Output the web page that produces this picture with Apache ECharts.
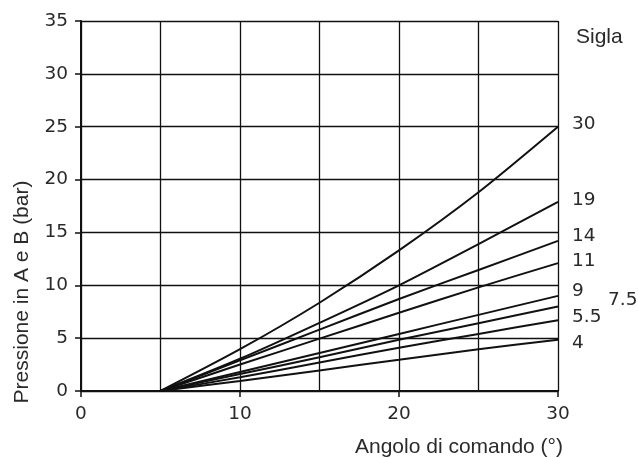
<!DOCTYPE html>
<html>
<head>
<meta charset="utf-8">
<script src="https://cdn.jsdelivr.net/npm/echarts@6/dist/echarts.min.js"></script>
<style>html,body{margin:0;padding:0;background:#fff;}#c{width:638px;height:458px;}</style>
</head>
<body>
<div id="c"></div>
<script>
// Data
const xValues = [5, 10, 15, 20, 25, 30];
const sigla = ['30', '19', '14', '11', '9', '7.5', '5.5', '4'];
const p30 = [0, 3.95, 8.35, 13.3, 18.8, 25];
const p19 = [0, 3.05, 6.45, 10.0, 13.9, 17.9];
const p14 = [0, 2.9, 5.8, 8.7, 11.45, 14.2];
const p11 = [0, 2.5, 4.95, 7.4, 9.8, 12.1];
const p9 = [0, 1.8, 3.6, 5.4, 7.2, 9.0];
const p75 = [0, 1.6, 3.2, 4.85, 6.4, 8.0];
const p55 = [0, 1.3, 2.7, 4.1, 5.4, 6.7];
const p4 = [0, 0.95, 1.95, 2.95, 3.95, 4.85];
const seriesValues = [p30, p19, p14, p11, p9, p75, p55, p4];
const xTickLabels = [0, 10, 20, 30];
const yTickLabels = [0, 5, 10, 15, 20, 25, 30, 35];

// label offsets (style only)
const labelOffsets = [[0,-3],[0,-2],[0,-5],[0,-2],[0,-5],[36,-6],[0,-3],[0,3]];

const lineColor = '#111';
const textColor = '#2a2a2a';
const tickFont = 'DejaVu Sans';
const nameFont = 'Liberation Sans';

const chart = echarts.init(document.getElementById('c'), null, {renderer: 'canvas'});

const series = seriesValues.map((vals, i) => ({
  type: 'line',
  name: sigla[i],
  xAxisIndex: 0,
  data: vals.map((v, j) => [xValues[j], v]),
  showSymbol: false,
  symbol: 'none',
  smooth: 0.25,
  lineStyle: {color: lineColor, width: 2},
  z: 5,
  endLabel: {
    show: true,
    formatter: sigla[i],
    color: textColor,
    fontFamily: tickFont,
    fontSize: 18.5,
    distance: 14,
    offset: labelOffsets[i]
  }
}));

chart.setOption({
  animation: false,
  backgroundColor: '#fff',
  grid: {left: 81, right: 80, top: 21, bottom: 66, containLabel: false},
  title: {
    text: 'Sigla', left: 571, top: 22,
    textStyle: {fontFamily: nameFont, fontSize: 21, fontWeight: 'normal', color: textColor}
  },
  graphic: [{
    type: 'text',
    x: 22, y: 292,
    rotation: Math.PI / 2,
    style: {
      text: 'Pressione in A e B (bar)',
      fontFamily: nameFont, fontSize: 21, fill: textColor,
      align: 'center', verticalAlign: 'middle'
    }
  }],
  xAxis: [{
    type: 'value', min: 0, max: 30, interval: 10,
    position: 'bottom',
    axisLine: {show: true, onZero: false, lineStyle: {color: lineColor, width: 2}},
    axisTick: {show: true, length: 6, lineStyle: {color: lineColor, width: 1.5}},
    axisLabel: {show: true, margin: 14, color: textColor, fontFamily: tickFont, fontSize: 18.5,
      formatter: v => (xTickLabels.indexOf(v) >= 0 ? String(v) : '')},
    splitLine: {show: false},
    name: 'Angolo di comando (°)',
    nameLocation: 'end',
    nameGap: 5,
    nameTextStyle: {fontFamily: nameFont, fontSize: 21, color: textColor, align: 'right', verticalAlign: 'top', padding: [46, 0, 0, 0]},
    z: 3
  }, {
    type: 'value', min: 0, max: 30, interval: 5,
    position: 'bottom',
    axisLine: {show: false},
    axisTick: {show: false},
    axisLabel: {show: false},
    splitLine: {show: true, lineStyle: {color: lineColor, width: 1.3}}
  }],
  yAxis: {
    type: 'value', min: 0, max: 35, interval: 5,
    axisLine: {show: true, lineStyle: {color: lineColor, width: 2}},
    axisTick: {show: true, length: 6, lineStyle: {color: lineColor, width: 1.5}},
    axisLabel: {margin: 13, color: textColor, fontFamily: tickFont, fontSize: 18.5,
      formatter: v => (yTickLabels.indexOf(v) >= 0 ? String(v) : '')},
    splitLine: {show: true, lineStyle: {color: lineColor, width: 1.3}}
  },
  series: series
});
</script>
</body>
</html>
